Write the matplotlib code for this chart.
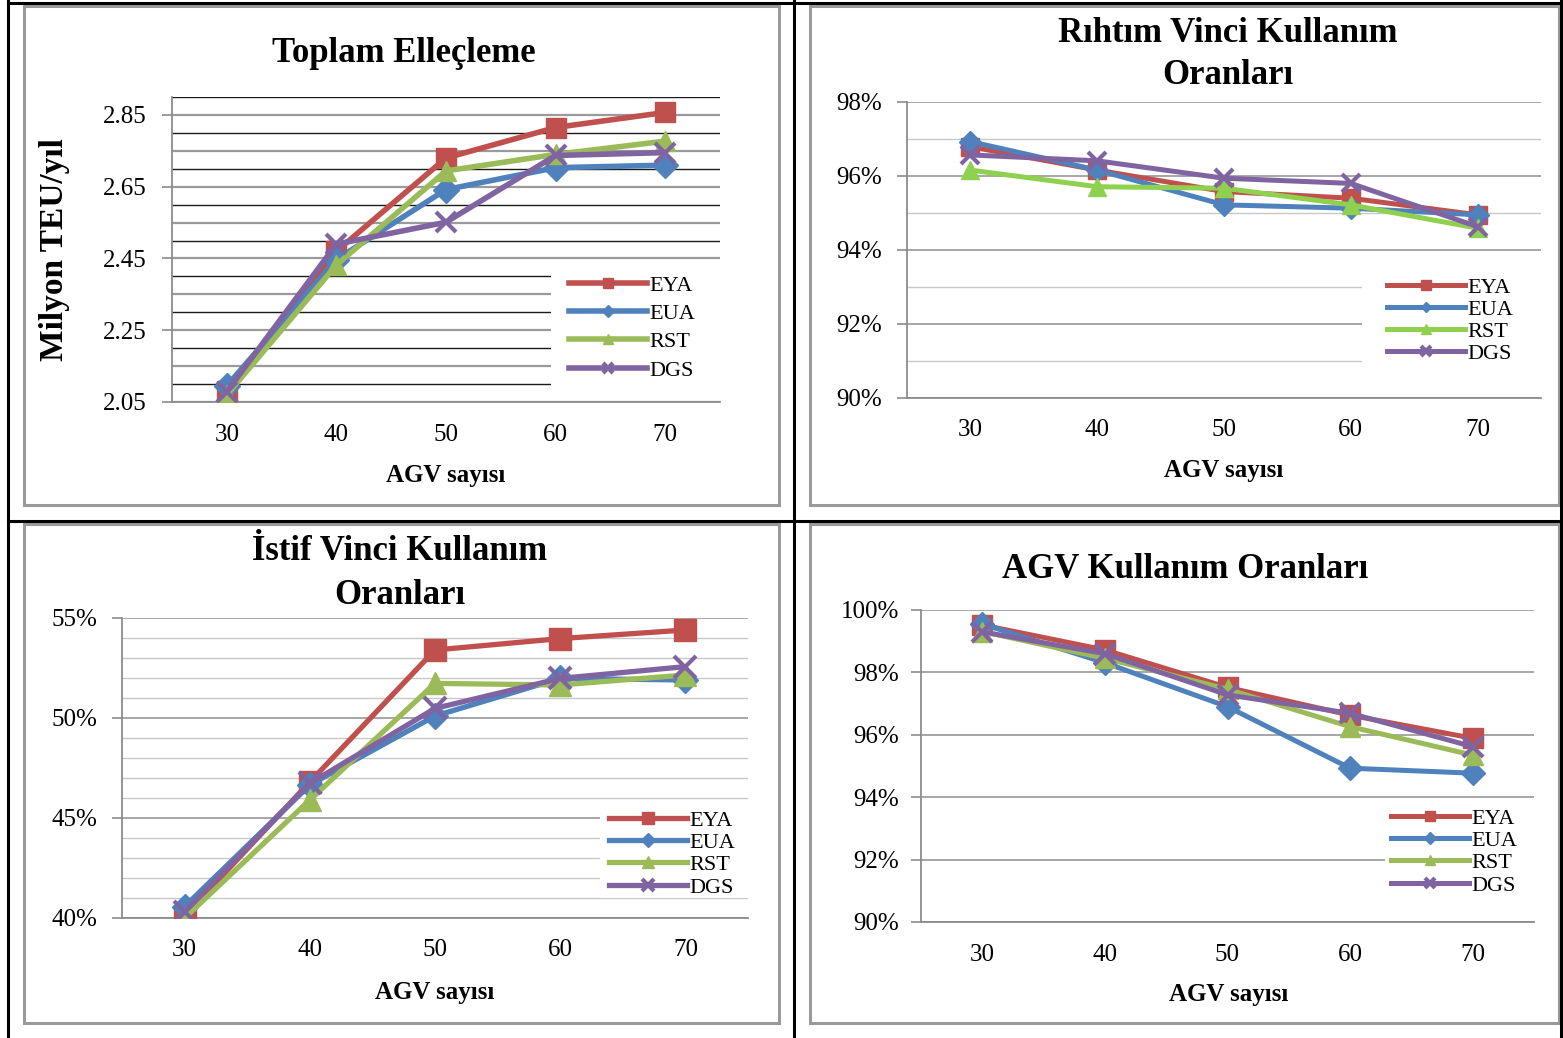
import matplotlib
matplotlib.use("Agg")
import matplotlib.pyplot as plt
from matplotlib.lines import Line2D
from matplotlib.patches import Rectangle
from matplotlib.ticker import FuncFormatter

plt.rcParams['font.family'] = ['Liberation Serif', 'DejaVu Serif']

# ---------------- data ----------------
agv_counts = ['30', '40', '50', '60', '70']
series_names = ['EYA', 'EUA', 'RST', 'DGS']

# Toplam elleçleme (milyon TEU/yıl)
total_eya = [2.080, 2.470, 2.730, 2.815, 2.857]
total_eua = [2.095, 2.447, 2.642, 2.703, 2.710]
total_rst = [2.070, 2.432, 2.694, 2.740, 2.777]
total_dgs = [2.079, 2.490, 2.551, 2.737, 2.745]

# Rıhtım vinci kullanım oranı (%)
quay_eya = [96.79, 96.16, 95.58, 95.40, 94.95]
quay_eua = [96.93, 96.16, 95.22, 95.13, 94.95]
quay_rst = [96.16, 95.71, 95.67, 95.22, 94.59]
quay_dgs = [96.57, 96.41, 95.94, 95.80, 94.63]

# İstif vinci kullanım oranı (%)
yard_eya = [40.10, 46.80, 53.40, 53.97, 54.40]
yard_eua = [40.57, 46.65, 50.10, 51.98, 51.90]
yard_rst = [40.00, 45.90, 51.73, 51.65, 52.15]
yard_dgs = [40.32, 46.73, 50.48, 51.98, 52.57]

# AGV kullanım oranı (%)
agvu_eya = [99.52, 98.72, 97.52, 96.63, 95.89]
agvu_eua = [99.55, 98.31, 96.90, 94.93, 94.77]
agvu_rst = [99.31, 98.45, 97.46, 96.26, 95.35]
agvu_dgs = [99.30, 98.60, 97.28, 96.69, 95.62]

# ---------------- styling ----------------
W, H = 1563, 1038
fig = plt.figure(figsize=(W / 100, H / 100), dpi=100)

RED, BLUE, PURPLE = '#C0504D', '#4F81BD', '#8064A2'
GREEN, LIME = '#9BBB59', '#8FD14F'
MARKERS = ['s', 'D', '^', 'x']
AX_GRAY = '#8C8C8C'
TITLE_FS, LABEL_FS, TICK_FS, LEG_FS = 25, 18, 18, 16


def px_axes(x0, y0, x1, y1):
    ax = fig.add_axes([x0 / W, 1 - y1 / H, (x1 - x0) / W, (y1 - y0) / H])
    ax._px_box = (x0, y0, x1, y1)
    return ax


def fig_line(x0, y0, x1, y1, color='black', lw=2.0):
    fig.add_artist(Line2D([x0 / W, x1 / W], [1 - y0 / H, 1 - y1 / H],
                          color=color, lw=lw, transform=fig.transFigure))


def chart_box(x0, y0, x1, y1):
    fig.add_artist(Rectangle((x0 / W, 1 - y1 / H), (x1 - x0) / W, (y1 - y0) / H,
                             transform=fig.transFigure, fill=False,
                             edgecolor='#9A9A9A', lw=2.2))


def ftext(x, y, s, **kw):
    fig.text(x / W, 1 - y / H, s, ha='center', va='center', **kw)


def draw_panel(ax, data, colors, ms, lw, ylim, yticks, yfmt, grids, leg):
    xs = list(range(len(agv_counts)))
    for vals, col, mk, name in zip(data, colors, MARKERS, series_names):
        mew = 3 if mk == 'x' else 1
        ax.plot(xs, vals, color=col, lw=lw, marker=mk, ms=ms if mk != 'D' else ms * 0.85,
                mew=mew, mfc=col, mec=col, label=name, zorder=3, solid_joinstyle='round')
    ax.set_xlim(-0.5, len(agv_counts) - 0.5)
    ax.set_ylim(*ylim)
    ax.set_xticks(xs)
    ax.set_xticklabels(agv_counts)
    ax.set_yticks(yticks)
    ax.yaxis.set_major_formatter(FuncFormatter(yfmt))
    for level, col, w in grids:
        ax.axhline(level, color=col, lw=w, zorder=1)
    # white area behind the legend hides the gridlines there
    x0, y0, x1, y1 = ax._px_box
    bx0, by0, bx1, by1 = leg['box']
    ax.add_patch(Rectangle(((bx0 - x0) / (x1 - x0), (y1 - by1) / (y1 - y0)),
                           (bx1 - bx0) / (x1 - x0), (by1 - by0) / (y1 - y0),
                           transform=ax.transAxes, facecolor='white', edgecolor='none',
                           zorder=1.5))
    for side in ('top', 'right'):
        ax.spines[side].set_visible(False)
    for side in ('left', 'bottom'):
        ax.spines[side].set_color(AX_GRAY)
        ax.spines[side].set_linewidth(1.3)
    ax.tick_params(axis='x', length=0, pad=leg['xpad'], labelsize=TICK_FS)
    ax.tick_params(axis='y', length=7, color=AX_GRAY, width=1.2, pad=leg['ypad'],
                   labelsize=TICK_FS)
    ax.legend(loc='upper left', bbox_to_anchor=(leg['x'] / W, 1 - leg['y'] / H),
              bbox_transform=fig.transFigure, frameon=False,
              fontsize=LEG_FS, handlelength=3.5, handletextpad=0.1,
              labelspacing=leg['sp'], borderpad=0, markerscale=0.5,
              borderaxespad=0)


fmt_total = lambda v, _: f"{v:.2f}"
fmt_pct = lambda v, _: f"{v:.0f}%"

# table frame
fig_line(8, 0, 8, H, lw=2.2)
fig_line(794, 0, 794, H, lw=2.2)
fig_line(1561, 0, 1561, H, lw=2.2)
fig_line(8, 3, 1561, 3, lw=2.2)
fig_line(8, 521, 1561, 521, lw=2.2)

chart_box(24, 6, 779, 505)
chart_box(810, 6, 1559, 505)
chart_box(24, 524, 779, 1023)
chart_box(810, 524, 1559, 1023)

# ---- Toplam Elleçleme ----
ax1 = px_axes(172, 97, 720, 402)
grid1 = []
for k in range(18):
    lvl = round(2.05 + 0.05 * k, 2)
    grid1.append((lvl, '#9A9A9A', 1.6) if k % 2 == 0 else (lvl, '#1A1A1A', 1.0))
draw_panel(ax1, [total_eya, total_eua, total_rst, total_dgs], [RED, BLUE, GREEN, PURPLE],
           ms=15, lw=4.0, ylim=(2.05, 2.90), yticks=[2.05, 2.25, 2.45, 2.65, 2.85],
           yfmt=fmt_total, grids=grid1,
           leg=dict(x=569, y=275, sp=0.35, xpad=16, ypad=11, box=(551, 263, 720, 396)))
ftext(404, 53, 'Toplam Elleçleme', fontsize=TITLE_FS, fontweight='bold')
ftext(446, 475, 'AGV sayısı', fontsize=LABEL_FS, fontweight='bold')
fig.text(55 / W, 1 - 250 / H, 'Milyon TEU/yıl', rotation=90, ha='center', va='center',
         fontsize=24, fontweight='bold')

# ---- Rıhtım Vinci Kullanım Oranları ----
ax2 = px_axes(907, 102, 1541, 398)
grid2 = [(v, '#A6A6A6', 1.4) if v % 2 == 0 else (v, '#C8C8C8', 1.0) for v in range(90, 99)]
draw_panel(ax2, [quay_eya, quay_eua, quay_rst, quay_dgs], [RED, BLUE, LIME, PURPLE],
           ms=13, lw=3.6, ylim=(90, 98), yticks=[90, 92, 94, 96, 98],
           yfmt=fmt_pct, grids=grid2,
           leg=dict(x=1387, y=277, sp=0.07, xpad=15, ypad=11, box=(1362, 268, 1541, 372)))
ftext(1228, 33, 'Rıhtım Vinci Kullanım', fontsize=TITLE_FS, fontweight='bold')
ftext(1228, 76, 'Oranları', fontsize=TITLE_FS, fontweight='bold')
ftext(1224, 470, 'AGV sayısı', fontsize=LABEL_FS, fontweight='bold')

# ---- İstif Vinci Kullanım Oranları ----
ax3 = px_axes(122, 618, 748, 918)
grid3 = [(v, '#A6A6A6', 1.4) if v % 5 == 0 else (v, '#C8C8C8', 1.0) for v in range(40, 56)]
draw_panel(ax3, [yard_eya, yard_eua, yard_rst, yard_dgs], [RED, BLUE, GREEN, PURPLE],
           ms=16, lw=3.8, ylim=(40, 55), yticks=[40, 45, 50, 55],
           yfmt=fmt_pct, grids=grid3,
           leg=dict(x=609, y=810, sp=0.08, xpad=15, ypad=11, box=(600, 804, 748, 898)))
ftext(400, 551, 'İstif Vinci Kullanım', fontsize=TITLE_FS, fontweight='bold')
ftext(400, 596, 'Oranları', fontsize=TITLE_FS, fontweight='bold')
ftext(435, 992, 'AGV sayısı', fontsize=LABEL_FS, fontweight='bold')

# ---- AGV Kullanım Oranları ----
ax4 = px_axes(921, 610, 1534, 922)
grid4 = [(v, '#A6A6A6', 1.4) for v in range(90, 101, 2)]
draw_panel(ax4, [agvu_eya, agvu_eua, agvu_rst, agvu_dgs], [RED, BLUE, GREEN, PURPLE],
           ms=14, lw=3.6, ylim=(90, 100), yticks=[90, 92, 94, 96, 98, 100],
           yfmt=fmt_pct, grids=grid4,
           leg=dict(x=1391, y=808, sp=0.08, xpad=16, ypad=9, box=(1385, 802, 1534, 898)))
ftext(1185, 569, 'AGV Kullanım Oranları', fontsize=TITLE_FS, fontweight='bold')
ftext(1229, 995, 'AGV sayısı', fontsize=LABEL_FS, fontweight='bold')

fig.savefig('out.png', dpi=100, facecolor='white')
